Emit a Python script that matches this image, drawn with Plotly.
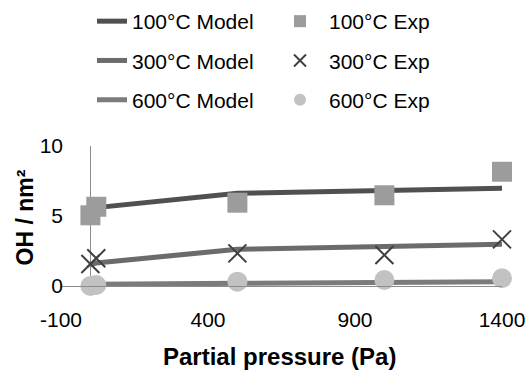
import plotly.graph_objects as go

# ---- data ----
model_x = [0, 20, 500, 1000, 1400]
model_100 = [5.45, 5.6, 6.62, 6.86, 6.98]
model_300 = [1.5, 1.65, 2.62, 2.81, 2.98]
model_600 = [0.1, 0.12, 0.19, 0.26, 0.31]

exp_x = [0, 20, 500, 1000, 1400]
exp_100 = [5.05, 5.66, 5.95, 6.48, 8.16]
exp_300 = [1.57, 1.98, 2.33, 2.21, 3.33]
exp_600 = [0.0, 0.07, 0.31, 0.43, 0.55]

x_ticks = [-100, 400, 900, 1400]
x_tick_labels = ["-100", "400", "900", "1400"]
y_ticks = [0, 5, 10]

x_title = "<b>Partial pressure (Pa)</b>"
y_title = "<b>OH / nm²</b>"

FONT = "Liberation Sans, Arial, sans-serif"

fig = go.Figure()

model_series = [("100°C Model", model_100, "#505050"),
                ("300°C Model", model_300, "#6b6b6b"),
                ("600°C Model", model_600, "#7b7b7b")]
for name, ys, col in model_series:
    fig.add_trace(go.Scatter(x=model_x, y=ys, name=name, mode="lines",
                             line=dict(color=col, width=5),
                             legend="legend", legendgroup=name,
                             cliponaxis=False))

exp_series = [("100°C Exp", exp_100, dict(symbol="square", size=20, color="#9c9c9c")),
              ("300°C Exp", exp_300, dict(symbol="x-thin", size=18, color="#404040",
                                          line=dict(color="#404040", width=2))),
              ("600°C Exp", exp_600, dict(symbol="circle", size=20, color="#c2c2c2"))]
for name, ys, mk in exp_series:
    fig.add_trace(go.Scatter(x=exp_x, y=ys, name=name, mode="markers",
                             marker=mk, legend="legend2", legendgroup=name,
                             cliponaxis=False))

fig.update_layout(
    width=529, height=371,
    margin=dict(l=61, r=27, t=146, b=85, autoexpand=False),
    paper_bgcolor="white", plot_bgcolor="white",
    font=dict(family=FONT, color="black", size=21),
    showlegend=True,
    legend=dict(xref="container", yref="container", x=92/529, y=1-1/371,
                xanchor="left", yanchor="top", bgcolor="rgba(0,0,0,0)",
                font=dict(size=21, family=FONT), traceorder="grouped",
                tracegroupgap=9, itemsizing="constant"),
    legend2=dict(xref="container", yref="container", x=271/529, y=1-1/371,
                 xanchor="left", yanchor="top", bgcolor="rgba(0,0,0,0)",
                 font=dict(size=21, family=FONT), traceorder="grouped",
                 tracegroupgap=9, itemsizing="constant", itemwidth=48),
    xaxis=dict(range=[-100, 1400], tickvals=x_ticks, ticktext=x_tick_labels,
               showgrid=False,
               zeroline=True, zerolinecolor="#8c8c8c", zerolinewidth=1,
               showline=True, linecolor="#8c8c8c", linewidth=1,
               ticks="", ticklabelstandoff=15, automargin=False,
               tickfont=dict(size=21, family=FONT)),
    yaxis=dict(range=[0, 10], tickvals=y_ticks, showgrid=False,
               zeroline=False, showline=False, ticks="", automargin=False,
               ticklabelstandoff=-3,
               tickfont=dict(size=21, family=FONT)),
    annotations=[
        dict(text=x_title, xref="paper", yref="paper", x=0.496, y=-0.507,
             xanchor="center", yanchor="middle", showarrow=False,
             font=dict(size=24, family=FONT, color="black")),
        dict(text=y_title, xref="paper", yref="paper", x=-0.082, y=0.489,
             xanchor="center", yanchor="middle", showarrow=False, textangle=-90,
             font=dict(size=23, family=FONT, color="black")),
    ],
)

fig.write_html("out.html")
